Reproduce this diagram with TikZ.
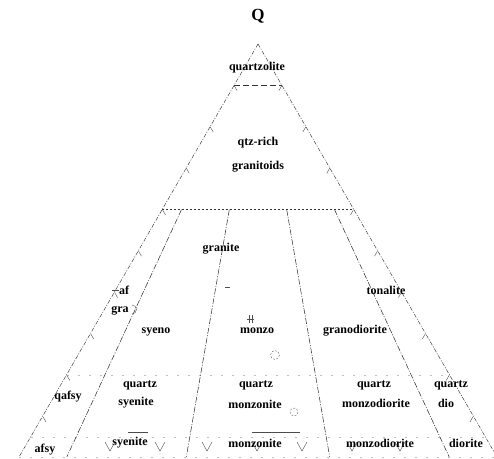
\documentclass[tikz,border=0pt]{standalone}
\usepackage{fontspec}
\setmainfont{Liberation Serif}
\begin{document}
\begin{tikzpicture}[x=1pt,y=-1pt,
  lbl/.style={font=\bfseries\fontsize{12}{13}\selectfont, inner sep=0pt, text=black},
  edge/.style={draw=black!80, line width=0.45pt, dash pattern=on 4pt off 1.5pt on 1pt off 1.5pt},
  divline/.style={draw=black!85, line width=0.5pt, dash pattern=on 6pt off 1.5pt on 1pt off 1.5pt},
  faint/.style={draw=black!25, line width=0.4pt, dash pattern=on 2pt off 9pt},
  tick/.style={draw=black!70, line width=0.4pt},
  blob/.style={draw=black!60, line width=0.4pt, dash pattern=on 2pt off 1.5pt}]
\useasboundingbox (0,0) rectangle (494,458);
\begin{scope}
\clip (0,0) rectangle (494,458);
% corners and levels
\coordinate (apex) at (258,44);
\coordinate (bl) at (19,457);
\coordinate (br) at (497,457);
\coordinate (q90l) at (234.1,85.4);
\coordinate (q90r) at (281.9,85.4);
\coordinate (q60l) at (162.4,209.6);
\coordinate (q60r) at (353.6,209.6);
\coordinate (q20l) at (66.8,375.2);
\coordinate (q20r) at (449.2,375.2);
\coordinate (q5l) at (30.95,437.3);
\coordinate (q5r) at (485.05,437.3);
\coordinate (p10t) at (181.5,209.6);
\coordinate (p10b) at (66.8,457);
\coordinate (p35t) at (229.3,209.6);
\coordinate (p35b) at (186.3,457);
\coordinate (p65t) at (286.7,209.6);
\coordinate (p65b) at (329.7,457);
\coordinate (p90t) at (334.5,209.6);
\coordinate (p90b) at (449.2,457);
% outline
\draw[edge] (apex) -- (bl);
\draw[edge] (apex) -- (br);
\draw[faint] (bl) -- (br);
% horizontal levels
\draw[edge, dash pattern=on 6pt off 3pt] (q90l) -- (q90r);
\draw[edge, dash pattern=on 1.5pt off 2.5pt] (q60l) -- (q60r);
\draw[faint] (q20l) -- (q20r);
\draw[faint] (q5l) -- (q5r);
% dividing lines
\draw[divline] (p10t) -- (p10b);
\draw[divline] (p35t) -- (p35b);
\draw[divline] (p65t) -- (p65b);
\draw[divline] (p90t) -- (p90b);
% edge ticks
\foreach \q in {0.1,0.2,...,0.91}{
  \draw[tick] ({258-(1-\q)*239},{458-\q*414}) -- ++(3,5.2);
  \draw[tick] ({258+(1-\q)*239},{458-\q*414}) -- ++(-3,5.2);
}
% base ticks
\foreach \x in {110,160,207,257,302,352,400}{
  \draw[tick] (\x-5,442) -- (\x,451) -- (\x+5,442);
}
% small marks
\draw[tick] (112,290.5) -- (119,290.5);
\draw[tick] (132,314) arc (90:-90:4.5);
\draw[blob] (275,355) circle (4.5);
\draw[blob] (294,412) circle (4);
\draw[tick] (249,315) -- (249,323) (252,315) -- (252,323) (247,319) -- (254,319);
\draw[tick] (225,287) -- (230,287);
\draw[tick] (128,432) -- (148,432);
\draw[tick] (252,432) -- (300,432);
\end{scope}
% labels
\node[lbl, font=\bfseries\fontsize{17}{18}\selectfont] (Q) at (258,16) {Q};
\node[lbl] (quartzolite) at (257,68) {quartzolite};
\node[lbl] (qtzrich) at (258,143) {qtz-rich};
\node[lbl] (granitoids) at (258,167) {granitoids};
\node[lbl] (granite) at (221,249) {granite};
\node[lbl] (af) at (124,290) {af};
\node[lbl] (gra) at (120,311) {gra};
\node[lbl] (syeno) at (156,332) {syeno};
\node[lbl] (monzo) at (257,331) {monzo};
\node[lbl] (granodiorite) at (355,331) {granodiorite};
\node[lbl] (tonalite) at (386,290) {tonalite};
\node[lbl] (qafsy) at (68,397) {qafsy};
\node[lbl] (afsy) at (45,450) {afsy};
\node[lbl] (qsy1) at (140,385) {quartz};
\node[lbl] (qsy2) at (136,403) {syenite};
\node[lbl] (syenite) at (130,443) {syenite};
\node[lbl] (qmz1) at (256,385) {quartz};
\node[lbl] (qmz2) at (255,404) {monzonite};
\node[lbl] (monzonite) at (255,443) {monzonite};
\node[lbl] (qmd1) at (374,385) {quartz};
\node[lbl] (qmd2) at (376,403) {monzodiorite};
\node[lbl] (monzodiorite) at (380,443) {monzodiorite};
\node[lbl] (qd1) at (451,385) {quartz};
\node[lbl] (qd2) at (446,403) {dio};
\node[lbl] (diorite) at (466,443) {diorite};
\end{tikzpicture}
\end{document}
